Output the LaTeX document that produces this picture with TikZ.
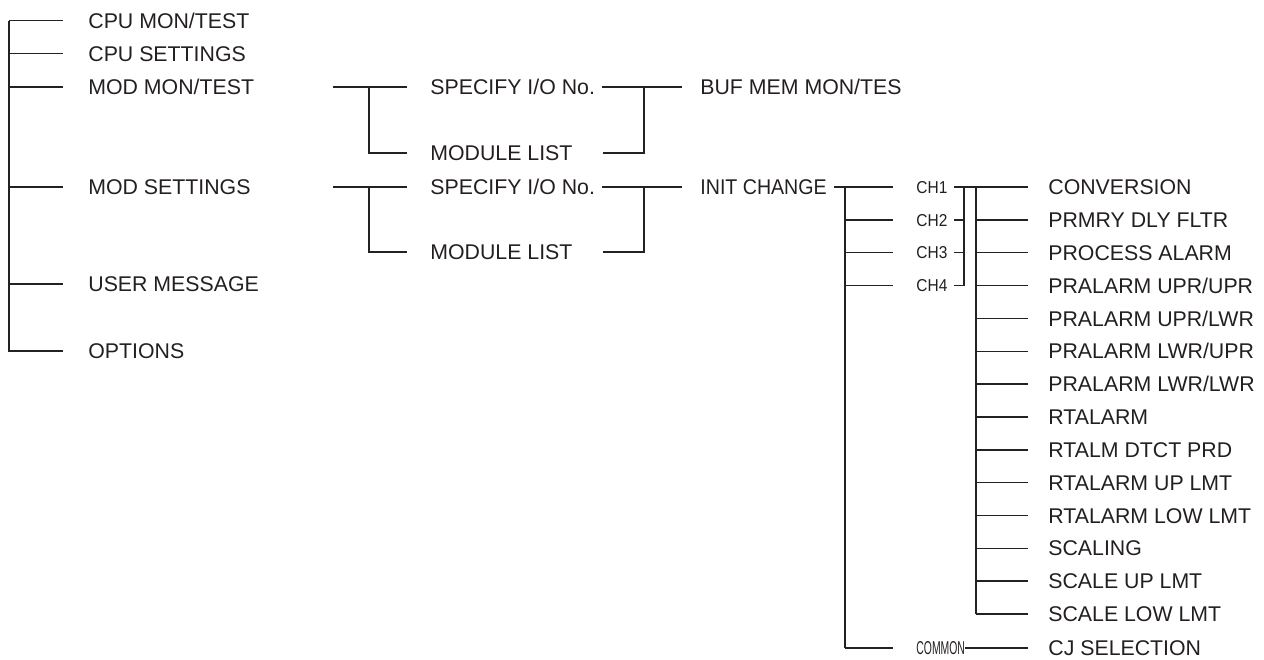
\documentclass[tikz,border=0pt]{standalone}
\usepackage{fontspec}
\setmainfont{Liberation Sans}
\definecolor{ramagris}{RGB}{35,33,33}
\definecolor{textogris}{RGB}{35,31,32}

\begin{document}
\begin{tikzpicture}[x=0.5pt,y=-0.5pt,line cap=butt,line join=miter,
    rama/.style={ramagris,line width=0.75pt},
    opcion/.style={anchor=west,inner sep=0pt,text=textogris,
        font=\fontsize{10.65}{12}\selectfont,text height=7.63pt,text depth=0pt},
    canal/.style={anchor=west,inner sep=0pt,text=textogris,
        font=\fontsize{8.6}{10}\selectfont,text height=6.15pt,text depth=0pt}]
        \useasboundingbox (0,0) rectangle (1264,659);

        % Menu principal
        \node[opcion] (cpumon)  at (88,20.5) {CPU MON/TEST};
        \node[opcion] (cpuset)  at (88,53.5) {CPU SETTINGS};
        \node[opcion] (modmon)  at (88,87)   {MOD MON/TEST};
        \node[opcion] (modset)  at (88,187)  {MOD SETTINGS};
        \node[opcion] (usermsg) at (88,284)  {USER MESSAGE};
        \node[opcion] (options) at (88,351)  {OPTIONS};

        \coordinate (raiz) at (9,20.5);
        \draw[rama] (raiz) |- ([xshift=-12.5pt]options.west);
        \foreach \n in {cpumon,cpuset,modmon,modset,usermsg}
            \draw[rama] (raiz |- \n.west) -- ([xshift=-12.5pt]\n.west);

        % MOD MON/TEST
        \node[opcion] (spec1)  at (430,87)  {SPECIFY I/O No.};
        \node[opcion] (list1)  at (430,153) {MODULE LIST};
        \node[opcion] (bufmem) at (700,87)  {BUF MEM MON/TES};

        \coordinate (mm0) at (333,87);
        \coordinate (mm1) at (369,87);
        \coordinate (mm2) at (644,87);
        \draw[rama] (mm0) -- ([xshift=-11.5pt]spec1.west);
        \draw[rama] (mm1) |- ([xshift=-11.5pt]list1.west);
        \draw[rama] ([xshift=3.5pt]spec1.east) -- ([xshift=-9pt]bufmem.west);
        \draw[rama] ([xshift=15pt]list1.east) -| (mm2);

        % MOD SETTINGS
        \node[opcion] (spec2)  at (430,187) {SPECIFY I/O No.};
        \node[opcion] (list2)  at (430,252) {MODULE LIST};
        \node[opcion] (initch) at (700,187) {\scalebox{0.92}[1]{INIT CHANGE}};

        \coordinate (ms0) at (333,187);
        \coordinate (ms1) at (369,187);
        \coordinate (ms2) at (644,187);
        \draw[rama] (ms0) -- ([xshift=-11.5pt]spec2.west);
        \draw[rama] (ms1) |- ([xshift=-11.5pt]list2.west);
        \draw[rama] ([xshift=3.5pt]spec2.east) -- ([xshift=-9pt]initch.west);
        \draw[rama] ([xshift=15pt]list2.east) -| (ms2);

        % Canales
        \node[canal] (ch1) at (916,187)    {\scalebox{0.9}[1]{CH1}};
        \node[canal] (ch2) at (916,219.85) {\scalebox{0.9}[1]{CH2}};
        \node[canal] (ch3) at (916,252.7)  {\scalebox{0.9}[1]{CH3}};
        \node[canal] (ch4) at (916,285.55) {\scalebox{0.9}[1]{CH4}};
        \node[canal,font=\fontsize{9.3}{10}\selectfont,text height=6.7pt]
            (common) at (916,648) {\scalebox{0.56}[1]{COMMON}};

        \coordinate (ic0) at (845,187);
        \draw[rama] ([xshift=3.5pt]initch.east) -- ([xshift=-11.5pt]ch1.west);
        \draw[rama] (ic0) -- (ic0 |- common.west);
        \foreach \n in {ch2,ch3,ch4,common}
            \draw[rama] (ic0 |- \n.west) -- ([xshift=-11.5pt]\n.west);

        % Ajustes por canal
        \foreach \txt [count=\i] in {CONVERSION,PRMRY DLY FLTR,PROCESS ALARM,
                PRALARM UPR/UPR,PRALARM UPR/LWR,PRALARM LWR/UPR,PRALARM LWR/LWR,
                RTALARM,RTALM DTCT PRD,RTALARM UP LMT,RTALARM LOW LMT,
                SCALING,SCALE UP LMT,SCALE LOW LMT}
            \node[opcion] (f\i) at (1048,{187+32.85*(\i-1)}) {\txt};
        \node[opcion] (cjsel) at (1048,648) {CJ SELECTION};

        \coordinate (chv) at (964,187);
        \coordinate (fv) at (976,187);
        \draw[rama] ([xshift=3pt]ch1.east) -- ([xshift=-10pt]f1.west);
        \draw[rama] (chv) -- (chv |- ch4.west);
        \foreach \n in {ch2,ch3,ch4}
            \draw[rama] ([xshift=3pt]\n.east) -- (chv |- \n.west);
        \draw[rama] (fv) -- (fv |- f14.west);
        \foreach \i in {1,...,14}
            \draw[rama] (fv |- f\i.west) -- ([xshift=-10pt]f\i.west);
        \draw[rama] (common.east) -- ([xshift=-10pt]cjsel.west);
\end{tikzpicture}
\end{document}
